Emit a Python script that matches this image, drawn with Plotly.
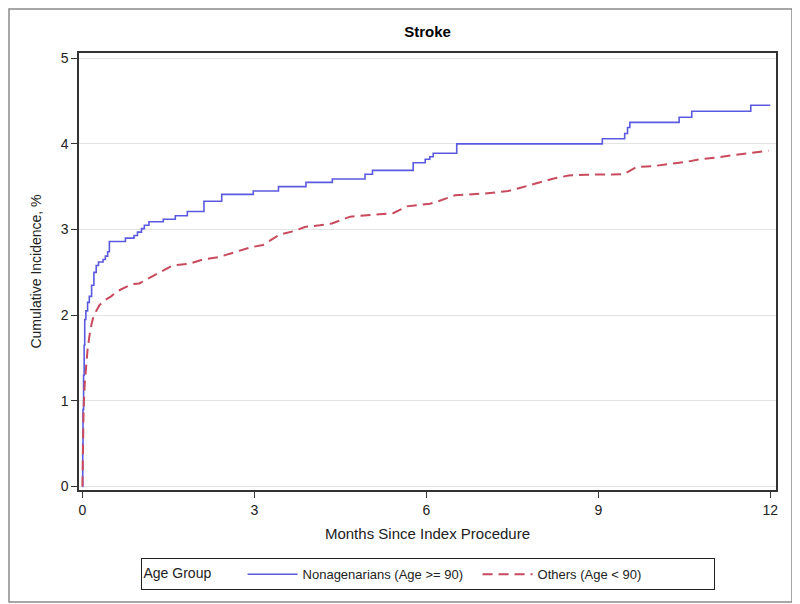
import plotly.graph_objects as go

# Nonagenarians (Age >= 90) - step curve
nona_months = [0, 0.005, 0.01, 0.02, 0.03, 0.04, 0.06, 0.09, 0.12, 0.16, 0.20, 0.24, 0.28,
               0.36, 0.40, 0.44, 0.47, 0.75, 0.90, 0.96, 1.03, 1.08, 1.16, 1.41, 1.62, 1.83,
               2.12, 2.43, 2.98, 3.42, 3.90, 4.36, 4.93, 5.06, 5.77, 5.98, 6.06, 6.12, 6.53,
               9.07, 9.46, 9.51, 9.55, 10.41, 10.63, 11.66, 12.0]
nona_inc = [0, 0.5, 0.9, 1.3, 1.65, 1.95, 2.05, 2.15, 2.22, 2.35, 2.50, 2.58, 2.62,
            2.65, 2.69, 2.74, 2.86, 2.90, 2.93, 2.97, 3.01, 3.05, 3.09, 3.12, 3.16, 3.21,
            3.33, 3.41, 3.45, 3.50, 3.55, 3.59, 3.645, 3.69, 3.78, 3.82, 3.85, 3.89, 4.00,
            4.06, 4.12, 4.19, 4.25, 4.31, 4.38, 4.45, 4.45]

# Others (Age < 90)
other_months = [0, 0.01, 0.02, 0.04, 0.06, 0.09, 0.12, 0.16, 0.20, 0.25, 0.30, 0.38, 0.50,
                0.61, 0.75, 0.85, 0.99, 1.22, 1.40, 1.57, 1.86, 2.10, 2.39, 2.68, 2.92, 3.15,
                3.44, 3.68, 3.88, 4.14, 4.35, 4.67, 4.90, 5.13, 5.42, 5.66, 5.83, 6.06, 6.21,
                6.50, 7.02, 7.43, 7.66, 7.95, 8.19, 8.48, 8.77, 9.44, 9.67, 9.96, 10.31, 10.54,
                10.77, 11.07, 11.36, 11.70, 11.97]
other_inc = [0, 0.5, 0.9, 1.2, 1.4, 1.6, 1.75, 1.9, 2.0, 2.06, 2.12, 2.17, 2.22,
             2.28, 2.33, 2.36, 2.37, 2.45, 2.52, 2.58, 2.60, 2.65, 2.68, 2.74, 2.79, 2.82,
             2.94, 2.98, 3.03, 3.05, 3.07, 3.15, 3.16, 3.17, 3.19, 3.27, 3.28, 3.30, 3.33,
             3.40, 3.42, 3.45, 3.49, 3.54, 3.59, 3.63, 3.64, 3.645, 3.73, 3.74, 3.77, 3.79,
             3.82, 3.84, 3.87, 3.90, 3.92]

x_ticks = [0, 3, 6, 9, 12]
y_ticks = [0, 1, 2, 3, 4, 5]

FONT = 'Liberation Sans, Arial, sans-serif'

# page has an 8px body margin, so the figure is sized to fit inside it
W, H = 792, 596
L, R, T, B = 71, 24, 45, 114
pw, ph = W - L - R, H - T - B

fig = go.Figure()

fig.add_trace(go.Scatter(
    x=nona_months, y=nona_inc,
    mode='lines', line_shape='hv',
    name='Nonagenarians (Age >= 90)',
    line=dict(color='#5a5ae0', width=1.6)
))

fig.add_trace(go.Scatter(
    x=other_months, y=other_inc,
    mode='lines',
    name='Others (Age < 90)',
    line=dict(color='#c84a5c', width=2, dash='10px,6px')
))

# outer frame around the whole graph
fig.add_shape(type='rect', xref='paper', yref='paper',
              x0=(1 - L) / pw, x1=(W - 8 - L) / pw,
              y0=(ph + T - (H - 2)) / ph, y1=(ph + T - 1) / ph,
              line=dict(color='#8a8a8a', width=1.5), layer='below')

fig.update_layout(
    width=W, height=H,
    margin=dict(l=L, r=R, t=T, b=B),
    paper_bgcolor='white', plot_bgcolor='white',
    font=dict(family=FONT, size=13, color='#222'),
    title=dict(text='<b>Stroke</b>', x=0.5, xref='paper', y=1 - 24 / H, yanchor='middle',
               font=dict(family=FONT, size=15, color='#000')),
    xaxis=dict(
        range=[-0.06, 12.1], tickvals=x_ticks, ticks='outside', ticklen=6,
        tickcolor='#333', showline=True, linecolor='#333', linewidth=1.5, mirror=True,
        showgrid=False, zeroline=False, tickfont=dict(size=14),
        title=dict(text='Months Since Index Procedure', standoff=12,
                   font=dict(size=15))
    ),
    yaxis=dict(
        range=[-0.04, 5.06], tickvals=y_ticks, ticks='outside', ticklen=6,
        tickcolor='#333', showline=True, linecolor='#333', linewidth=1.5, mirror=True,
        showgrid=True, gridcolor='#e3e3e3', zeroline=False, tickfont=dict(size=14),
        title=dict(text='Cumulative Incidence, %', standoff=16,
                   font=dict(size=14))
    ),
    legend=dict(
        orientation='h', x=0.5, xanchor='center', y=-0.193, yanchor='middle',
        title=dict(text='Age Group      ', side='left', font=dict(size=14)),
        bordercolor='#222', borderwidth=1, bgcolor='white',
        font=dict(family=FONT, size=13, color='#222'), itemwidth=50,
        entrywidth=170
    ),
    showlegend=True
)

fig.write_html("out.html")
